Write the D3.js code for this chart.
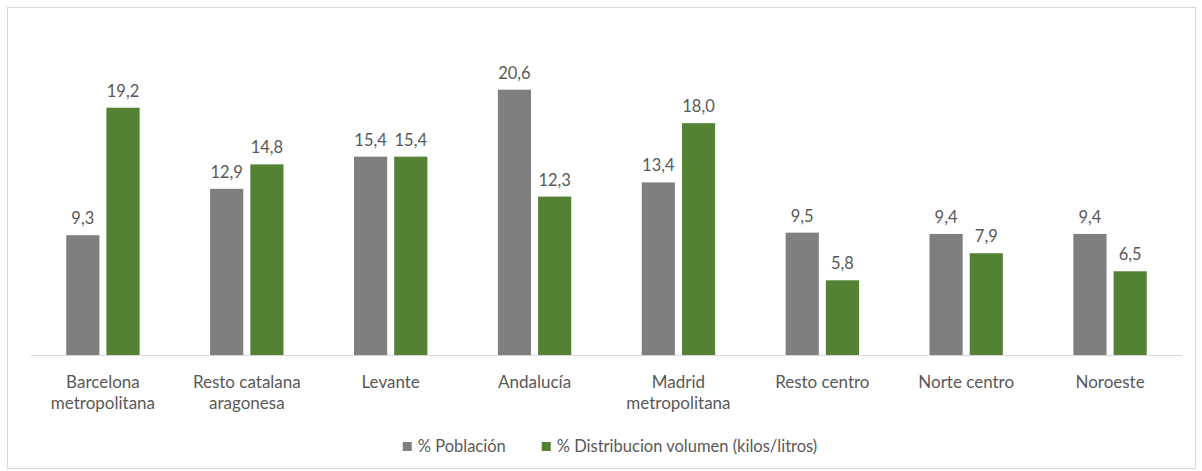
<!DOCTYPE html>
<html>
<head>
<meta charset="utf-8">
<script src="https://cdn.jsdelivr.net/npm/d3@7"></script>
<style>
  body { margin: 0; background: #fff; }
  svg text { font-family: Lato, "Open Sans", sans-serif; fill: #595959; }
</style>
</head>
<body>
<script>
// categories and series
var categories = [
    ["Barcelona", "metropolitana"],
    ["Resto catalana", "aragonesa"],
    ["Levante"],
    ["Andalucía"],
    ["Madrid", "metropolitana"],
    ["Resto centro"],
    ["Norte centro"],
    ["Noroeste"]
];
var poblacion = [9.3, 12.9, 15.4, 20.6, 13.4, 9.5, 9.4, 9.4];
var distribucion = [19.2, 14.8, 15.4, 12.3, 18.0, 5.8, 7.9, 6.5];
var seriesNames = ["% Población", "% Distribucion volumen (kilos/litros)"];
var seriesColors = ["#7f7f7f", "#548235"];

var width = 1202, height = 471;
var margin = {left: 31, right: 20, top: 33, bottom: 116};

var svg = d3.select("body").append("svg")
    .attr("width", width)
    .attr("height", height);

// chart border
svg.append("rect")
    .attr("x", 7.5).attr("y", 7.5)
    .attr("width", 1188).attr("height", 461)
    .attr("fill", "#fff")
    .attr("stroke", "#d9d9d9");

var x0 = d3.scaleBand()
    .domain(d3.range(categories.length))
    .range([margin.left, width - margin.right])
    .paddingInner(0.49)
    .paddingOuter(0.245);

var x1 = d3.scaleBand()
    .domain([0, 1])
    .range([0, x0.bandwidth()])
    .paddingInner(0.175);

var y = d3.scaleLinear()
    .domain([0, 25])
    .range([height - margin.bottom, margin.top]);

var rows = categories.map(function(c, i) {
    return {i: i, values: [poblacion[i], distribucion[i]]};
});

var groups = svg.append("g").selectAll("g")
    .data(rows)
    .enter().append("g")
    .attr("transform", function(d) { return "translate(" + x0(d.i) + ",0)"; });

groups.selectAll("rect")
    .data(function(d) { return d.values.map(function(v, k) { return {k: k, v: v}; }); })
    .enter().append("rect")
    .attr("x", function(d) { return x1(d.k); })
    .attr("y", function(d) { return y(d.v); })
    .attr("width", x1.bandwidth())
    .attr("height", function(d) { return y(0) - y(d.v); })
    .attr("fill", function(d) { return seriesColors[d.k]; });

groups.selectAll("text.val")
    .data(function(d) { return d.values.map(function(v, k) { return {k: k, v: v}; }); })
    .enter().append("text")
    .attr("class", "val")
    .attr("x", function(d) { return x1(d.k) + x1.bandwidth() / 2; })
    .attr("y", function(d) { return y(d.v) - 11; })
    .attr("text-anchor", "middle")
    .style("font-size", "16.5px")
    .text(function(d) { return d.v.toFixed(1).replace(".", ","); });

// baseline
svg.append("line")
    .attr("x1", margin.left).attr("x2", width - margin.right)
    .attr("y1", y(0) + 0.5).attr("y2", y(0) + 0.5)
    .attr("stroke", "#d9d9d9")
    .attr("stroke-width", 1);

// category labels
var catLabels = svg.append("g").selectAll("text")
    .data(categories)
    .enter().append("text")
    .attr("text-anchor", "middle")
    .attr("x", function(d, i) { return x0(i) + x0.bandwidth() / 2; })
    .attr("y", y(0) + 33)
    .style("font-size", "17px");

catLabels.selectAll("tspan")
    .data(function(d) { return d; })
    .enter().append("tspan")
    .attr("x", function() { return this.parentNode.getAttribute("x"); })
    .attr("dy", function(d, j) { return j === 0 ? 0 : 21; })
    .text(function(d) { return d; });

// legend, centred
var legend = svg.append("g").attr("transform", "translate(0,452)");
var items = legend.selectAll("g")
    .data(seriesNames)
    .enter().append("g");
items.append("rect")
    .attr("x", 0).attr("y", -10)
    .attr("width", 9).attr("height", 9)
    .attr("fill", function(d, k) { return seriesColors[k]; });
items.append("text")
    .attr("x", 15)
    .attr("y", 0)
    .style("font-size", "16.5px")
    .text(function(d) { return d; });

var widths = [];
items.each(function() { widths.push(this.getBBox().width); });
var gap = 36;
var total = d3.sum(widths) + gap * (widths.length - 1);
var lx = 610 - total / 2;
items.attr("transform", function(d, k) {
    var pos = lx;
    lx += widths[k] + gap;
    return "translate(" + pos + ",0)";
});
</script>
</body>
</html>
